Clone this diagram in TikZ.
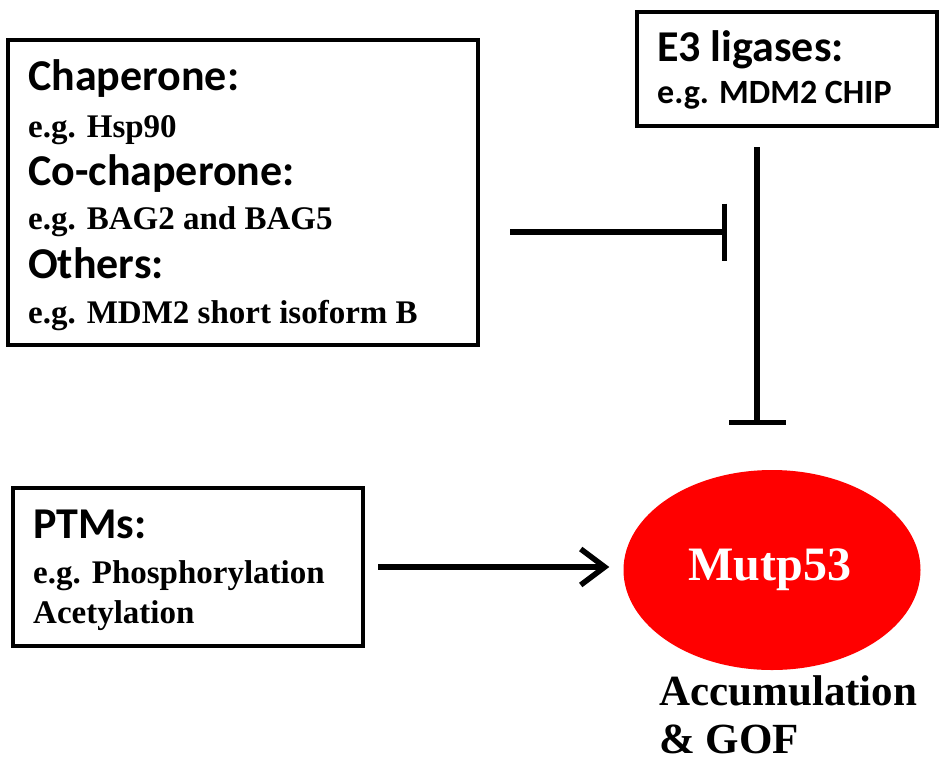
\documentclass[tikz,border=0pt]{standalone}
\usepackage{fontspec}
\setmainfont{Liberation Serif}
\newfontfamily\hdfont{Carlito}
\usetikzlibrary{arrows.meta,shapes.geometric}
\tikzset{
  frame/.style={draw=black, line width=4.5pt, fill=white, inner sep=0pt},
  head/.style={anchor=base west, inner sep=0pt, font=\hdfont\bfseries\fontsize{44}{48}\selectfont},
  sub/.style={anchor=base west, inner sep=0pt, font=\bfseries\fontsize{33}{36}\selectfont},
  subsans/.style={anchor=base west, inner sep=0pt, font=\hdfont\bfseries\fontsize{34}{38}\selectfont},
  conn/.style={line width=5.5pt},
  inhib/.style={conn, -{Bar[width=57pt,line width=5.5pt]}},
  act/.style={conn, -{Straight Barb[length=24pt,width=36pt,line width=5.5pt]}},
}
\begin{document}
\begin{tikzpicture}[x=1pt,y=-1pt]
\useasboundingbox (0,0) rectangle (940,764);
% boxes
\node[frame, minimum width=470pt, minimum height=305pt] (b1) at (243,192.5) {};
\node[frame, minimum width=300pt, minimum height=114pt] (b2) at (787,69) {};
\node[frame, minimum width=350pt, minimum height=158pt] (b3) at (188,567) {};
% texts box 1
\node[head] (t1) at (28,90) {Chaperone:};
\node[sub]  (t2) at (28,137) {e.g. Hsp90};
\node[head] (t3) at (28,185) {Co-chaperone:};
\node[sub]  (t4) at (28,229) {e.g. BAG2 and BAG5};
\node[head] (t5) at (28,278) {Others:};
\node[sub]  (t6) at (28,323) {e.g. MDM2 short isoform B};
% texts box 2
\node[head] (t7) at (657,61) {E3 ligases:};
\node[subsans] (t8) at (657,103) {e.g. MDM2 CHIP};
% texts box 3
\node[head] (t9) at (33,538) {PTMs:};
\node[sub]  (t10) at (33,583) {e.g. Phosphorylation};
\node[sub]  (t11) at (33,623) {Acetylation};
% ellipse
\node[draw=none, fill=red, ellipse, minimum width=297pt, minimum height=200pt, inner sep=0pt] (mut) at (772,570) {};
\node[anchor=base, inner sep=0pt, text=white, font=\bfseries\fontsize{48}{52}\selectfont] (mtxt) at (770,580) {Mutp53};
\node[anchor=base west, inner sep=0pt, font=\bfseries\fontsize{43}{46}\selectfont] (acc) at (659,705) {Accumulation};
\node[anchor=base west, inner sep=0pt, font=\bfseries\fontsize{43}{46}\selectfont] (gof) at (659,753) {\& GOF};
% connectors
\coordinate (h1s) at ([xshift=30pt]b1.east |- 0,232);
\coordinate (h1e) at (727,232);
\draw[inhib] (h1s) -- (h1e);
\coordinate (v1s) at ([yshift=-19pt]b2.south -| 757,0);
\coordinate (v1e) at (757,425);
\draw[inhib] (v1s) -- (v1e);
\coordinate (a1s) at ([xshift=13pt]b3.east);
\coordinate (a1e) at ([xshift=-14pt]mut.west |- a1s);
\draw[act] (a1s) -- (a1e);
\end{tikzpicture}
\end{document}
